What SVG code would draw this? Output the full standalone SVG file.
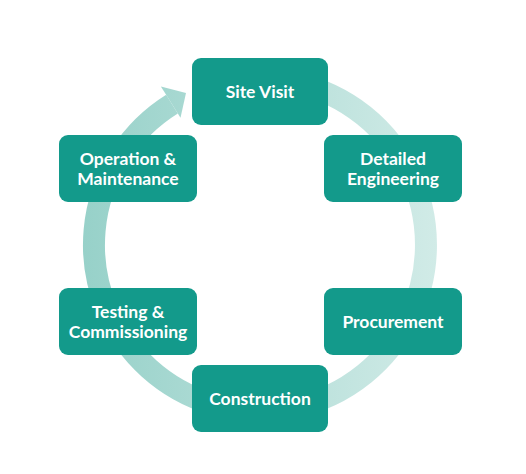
<svg xmlns="http://www.w3.org/2000/svg" width="526" height="474" viewBox="0 0 526 474">
  <defs>
    <linearGradient id="ringGrad" gradientUnits="userSpaceOnUse" x1="83" y1="245" x2="437" y2="245">
      <stop offset="0" stop-color="#97D1C9"/>
      <stop offset="1" stop-color="#D1EBE7"/>
    </linearGradient>
    <style>
      .node rect { fill: #139A8B; }
      .node text { fill: #FFFFFF; font-family: Lato, "Open Sans", "Liberation Sans", sans-serif; font-weight: 700; font-size: 17.5px; text-anchor: middle; }
    </style>
  </defs>
  <rect width="526" height="474" fill="#FFFFFF"/>
  <g id="connectors">
    <path d="M 288.8 81.5 A 166 166 0 1 1 172.0 104.2" fill="none" stroke="url(#ringGrad)" stroke-width="22"/>
    <polygon points="160.9,86.4 186,93 180.5,117.8" fill="url(#ringGrad)"/>
  </g>
  <g id="site-visit" class="node">
    <rect x="192" y="58" width="136" height="67" rx="9"/>
    <text x="260" y="98">Site Visit</text>
  </g>
  <g id="detailed-engineering" class="node">
    <rect x="324" y="135" width="138" height="67" rx="9"/>
    <text x="393" y="165">Detailed</text>
    <text x="393" y="185">Engineering</text>
  </g>
  <g id="procurement" class="node">
    <rect x="324" y="288" width="138" height="67" rx="9"/>
    <text x="393" y="328">Procurement</text>
  </g>
  <g id="construction" class="node">
    <rect x="192" y="365" width="136" height="67" rx="9"/>
    <text x="260" y="405">Construction</text>
  </g>
  <g id="testing-commissioning" class="node">
    <rect x="59" y="288" width="138" height="67" rx="9"/>
    <text x="128" y="318">Testing &amp;</text>
    <text x="128" y="338">Commissioning</text>
  </g>
  <g id="operation-maintenance" class="node">
    <rect x="59" y="135" width="138" height="67" rx="9"/>
    <text x="128" y="165">Operation &amp;</text>
    <text x="128" y="185">Maintenance</text>
  </g>
</svg>
